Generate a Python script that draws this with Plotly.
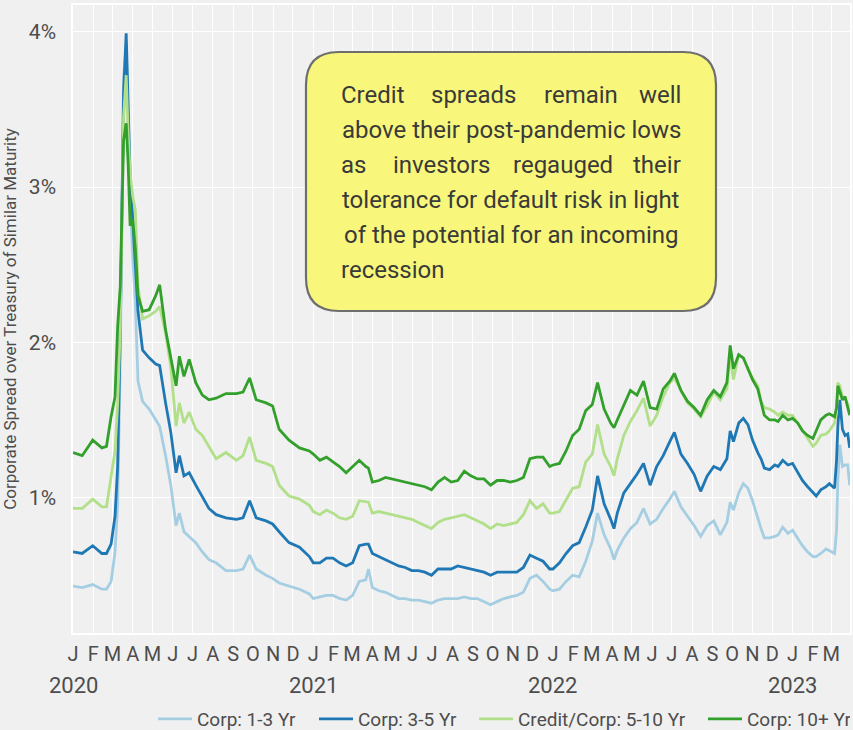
import pandas as pd
import plotly.graph_objects as go

# ---- data: corporate spread over Treasury of similar maturity (%) ----
dates = [
    "2020-01-01", "2020-01-15", "2020-01-31", "2020-02-14", "2020-02-21", "2020-02-28",
    "2020-03-05", "2020-03-09", "2020-03-13", "2020-03-18", "2020-03-22", "2020-03-25",
    "2020-03-28", "2020-04-01", "2020-04-05", "2020-04-09", "2020-04-16", "2020-04-26",
    "2020-05-06", "2020-05-12", "2020-05-21", "2020-05-29", "2020-06-06", "2020-06-11",
    "2020-06-18", "2020-06-26", "2020-07-06", "2020-07-16", "2020-07-26", "2020-08-06",
    "2020-08-21", "2020-09-06", "2020-09-16", "2020-09-26", "2020-10-06", "2020-10-21",
    "2020-10-31", "2020-11-10", "2020-11-25", "2020-12-11", "2020-12-26",
    "2021-01-01", "2021-01-11", "2021-01-21", "2021-01-31", "2021-02-10", "2021-02-20",
    "2021-03-02", "2021-03-12", "2021-03-22", "2021-03-26", "2021-04-01", "2021-04-11",
    "2021-04-21", "2021-05-01", "2021-05-11", "2021-05-21", "2021-05-31", "2021-06-10",
    "2021-06-20", "2021-06-30", "2021-07-10", "2021-07-20", "2021-07-30", "2021-08-09",
    "2021-08-19", "2021-08-29", "2021-09-08", "2021-09-18", "2021-09-28", "2021-10-08",
    "2021-10-18", "2021-10-28", "2021-11-07", "2021-11-17", "2021-11-27", "2021-12-07",
    "2021-12-17", "2021-12-27",
    "2022-01-01", "2022-01-11", "2022-01-21", "2022-01-31", "2022-02-10", "2022-02-20",
    "2022-03-02", "2022-03-10", "2022-03-20", "2022-03-30", "2022-04-04", "2022-04-09",
    "2022-04-19", "2022-04-29", "2022-05-09", "2022-05-19", "2022-05-29", "2022-06-08",
    "2022-06-18", "2022-06-28", "2022-07-05", "2022-07-15", "2022-07-25", "2022-08-04",
    "2022-08-14", "2022-08-24", "2022-09-03", "2022-09-13", "2022-09-23", "2022-09-28",
    "2022-10-03", "2022-10-11", "2022-10-18", "2022-10-25", "2022-11-01", "2022-11-09",
    "2022-11-14", "2022-11-19", "2022-11-27", "2022-12-05", "2022-12-10", "2022-12-17",
    "2022-12-25",
    "2023-01-01", "2023-01-09", "2023-01-16", "2023-01-24", "2023-02-01", "2023-02-06",
    "2023-02-13", "2023-02-21", "2023-02-26", "2023-03-06", "2023-03-09", "2023-03-11",
    "2023-03-14", "2023-03-18", "2023-03-22", "2023-03-26", "2023-03-29",
]

corp_1_3 = [
    0.43, 0.42, 0.44, 0.41, 0.41, 0.46,
    0.65, 0.95, 1.90, 3.70, 3.92, 3.40,
    2.90, 2.55, 2.25, 1.75, 1.62, 1.57,
    1.50, 1.46, 1.27, 1.08, 0.82, 0.90,
    0.78, 0.75, 0.71, 0.65, 0.60, 0.58,
    0.53, 0.53, 0.54, 0.63, 0.54, 0.50,
    0.48, 0.45, 0.43, 0.41, 0.38,
    0.35, 0.36, 0.37, 0.37, 0.35, 0.34,
    0.37, 0.46, 0.47, 0.54, 0.42, 0.40,
    0.39, 0.37, 0.35, 0.35, 0.34, 0.34,
    0.33, 0.32, 0.34, 0.35, 0.35, 0.35,
    0.36, 0.35, 0.35, 0.33, 0.31, 0.33,
    0.35, 0.36, 0.37, 0.39, 0.48, 0.50,
    0.46, 0.41,
    0.40, 0.41, 0.46, 0.50, 0.49, 0.59,
    0.72, 0.90, 0.76, 0.67, 0.60, 0.66,
    0.74, 0.80, 0.84, 0.93, 0.83, 0.86,
    0.93, 0.99, 1.04, 0.94, 0.88, 0.82,
    0.75, 0.82, 0.85, 0.76, 0.84, 0.97,
    0.92, 1.03, 1.09, 1.06, 0.98, 0.86,
    0.80, 0.74, 0.74, 0.75, 0.76, 0.81,
    0.77,
    0.79, 0.74, 0.69, 0.65, 0.62, 0.62,
    0.64, 0.67, 0.66, 0.64, 0.79, 1.11,
    1.34, 1.20, 1.21, 1.21, 1.08,
]

corp_3_5 = [
    0.65, 0.64, 0.69, 0.64, 0.64, 0.70,
    0.88, 1.20, 2.08, 3.60, 3.99, 3.50,
    3.07, 2.79, 2.45, 2.20, 1.95, 1.90,
    1.86, 1.85, 1.61, 1.42, 1.16, 1.27,
    1.14, 1.16, 1.08, 1.00, 0.93, 0.89,
    0.87, 0.86, 0.87, 0.98, 0.87, 0.85,
    0.83, 0.78, 0.71, 0.68, 0.62,
    0.58, 0.58, 0.61, 0.61, 0.58, 0.56,
    0.58, 0.69, 0.70, 0.70, 0.64, 0.62,
    0.60, 0.58, 0.56, 0.55, 0.53, 0.53,
    0.52, 0.50, 0.54, 0.54, 0.54, 0.56,
    0.55, 0.54, 0.53, 0.52, 0.50, 0.52,
    0.52, 0.52, 0.52, 0.55, 0.63, 0.61,
    0.59, 0.54,
    0.54, 0.58, 0.64, 0.69, 0.71, 0.81,
    0.92, 1.14, 0.96, 0.86, 0.80, 0.90,
    1.03, 1.09, 1.15, 1.22, 1.08, 1.20,
    1.27, 1.36, 1.42, 1.28, 1.22, 1.15,
    1.04, 1.14, 1.20, 1.18, 1.25, 1.43,
    1.36, 1.48, 1.51, 1.47, 1.37, 1.29,
    1.25, 1.19, 1.18, 1.21, 1.20, 1.24,
    1.21,
    1.22, 1.16, 1.11, 1.07, 1.03, 1.01,
    1.05, 1.07, 1.09, 1.06, 1.24, 1.46,
    1.63, 1.44, 1.40, 1.41, 1.32,
]

credit_5_10 = [
    0.93, 0.93, 0.99, 0.94, 0.94, 1.12,
    1.30, 1.60, 2.10, 3.45, 3.72, 3.35,
    3.09, 2.94, 2.85, 2.36, 2.15, 2.17,
    2.20, 2.23, 2.06, 1.84, 1.46, 1.61,
    1.48, 1.55, 1.44, 1.40, 1.33, 1.25,
    1.29, 1.24, 1.27, 1.39, 1.24, 1.22,
    1.20, 1.08, 1.01, 0.99, 0.95,
    0.91, 0.89, 0.92, 0.90, 0.87, 0.86,
    0.88, 0.98, 0.97, 0.97, 0.90, 0.91,
    0.90, 0.89, 0.88, 0.87, 0.86, 0.84,
    0.82, 0.80, 0.84, 0.86, 0.87, 0.88,
    0.89, 0.87, 0.85, 0.83, 0.80, 0.83,
    0.82, 0.83, 0.84, 0.89, 0.98, 0.93,
    0.96, 0.90,
    0.90, 0.91, 0.99, 1.06, 1.07, 1.23,
    1.28, 1.47, 1.28, 1.20, 1.14, 1.25,
    1.40, 1.49, 1.56, 1.64, 1.46, 1.53,
    1.65, 1.74, 1.77, 1.69, 1.61, 1.57,
    1.52, 1.59, 1.68, 1.63, 1.70, 1.91,
    1.76, 1.92, 1.90, 1.83, 1.77, 1.72,
    1.62, 1.58, 1.57, 1.55, 1.53, 1.55,
    1.53,
    1.53, 1.48, 1.43, 1.38, 1.33, 1.35,
    1.40, 1.41, 1.43, 1.48, 1.55, 1.74,
    1.72, 1.65, 1.64, 1.60, 1.54,
]

corp_10_plus = [
    1.29, 1.27, 1.37, 1.32, 1.33, 1.52,
    1.65, 2.10, 2.36, 3.30, 3.41, 3.15,
    2.75, 2.79, 2.60, 2.30, 2.20, 2.21,
    2.30, 2.37, 2.08, 1.91, 1.72, 1.91,
    1.78, 1.89, 1.74, 1.66, 1.63, 1.64,
    1.67, 1.67, 1.68, 1.77, 1.63, 1.61,
    1.59, 1.44, 1.37, 1.32, 1.30,
    1.28, 1.24, 1.26, 1.23, 1.20, 1.16,
    1.20, 1.24, 1.20, 1.19, 1.10, 1.11,
    1.13, 1.12, 1.11, 1.10, 1.09, 1.08,
    1.07, 1.05, 1.10, 1.13, 1.10, 1.11,
    1.17, 1.14, 1.12, 1.12, 1.08, 1.11,
    1.11, 1.10, 1.11, 1.13, 1.25, 1.26,
    1.26, 1.20,
    1.21, 1.22, 1.30, 1.40, 1.44, 1.56,
    1.60, 1.74, 1.57, 1.48, 1.45, 1.50,
    1.60, 1.69, 1.66, 1.75, 1.58, 1.57,
    1.70, 1.75, 1.80, 1.69, 1.62, 1.58,
    1.53, 1.63, 1.69, 1.65, 1.74, 1.98,
    1.83, 1.92, 1.90, 1.83, 1.76, 1.70,
    1.61, 1.53, 1.50, 1.50, 1.49, 1.53,
    1.50,
    1.51, 1.48, 1.43, 1.40, 1.38, 1.43,
    1.50, 1.53, 1.54, 1.52, 1.58, 1.72,
    1.68, 1.63, 1.65, 1.57, 1.53,
]

series_names = ["Corp: 1-3 Yr", "Corp: 3-5 Yr", "Credit/Corp: 5-10 Yr", "Corp: 10+ Yr"]
series_values = [corp_1_3, corp_3_5, credit_5_10, corp_10_plus]
series_colors = ["#A6CEE3", "#1F78B4", "#B2DF8A", "#33A02C"]
legend_entry_px = [112, 111, 180, 98]

y_tick_vals = [1, 2, 3, 4]
y_tick_text = ["1%", "2%", "3%", "4%"]
month_starts = pd.date_range("2020-01-01", "2023-03-01", freq="MS")
month_letters = [d.strftime("%B")[0] for d in month_starts]
year_labels = ["2020", "2021", "2022", "2023"]

note_lines = [
    ["Credit", "spreads", "remain", "well"],
    ["above their post-pandemic lows"],
    ["as", "investors", "regauged", "their"],
    ["tolerance for default risk in light"],
    ["of the potential for an incoming"],
    ["recession"],
]

# ---- layout geometry (pixels) ----
W, H = 853, 730
ML, MR, MT, MB = 73, 3, 5, 97
PW, PH = W - ML - MR, H - MT - MB
FONT = "Roboto, 'Liberation Sans', Arial, sans-serif"
BG = "#F0F0F0"
TXT = "#4D4D4D"


def px_x(px):
    return (px - ML) / PW


def px_y(py):
    return (H - MB - py) / PH


fig = go.Figure()
for name, vals, col, lw in zip(series_names, series_values, series_colors, legend_entry_px):
    fig.add_trace(go.Scatter(
        x=pd.to_datetime(dates), y=vals, name=name, mode="lines",
        line=dict(color=col, width=2.8), hoverinfo="skip", legendwidth=lw,
    ))

# rounded note box
bx0, bx1, by0, by1, r = 306, 716, 52, 311, 33
x0, x1, y0, y1 = px_x(bx0), px_x(bx1), px_y(by0), px_y(by1)
rx, ry = r / PW, r / PH
path = (
    f"M{x0 + rx},{y0} L{x1 - rx},{y0} Q{x1},{y0} {x1},{y0 - ry} "
    f"L{x1},{y1 + ry} Q{x1},{y1} {x1 - rx},{y1} "
    f"L{x0 + rx},{y1} Q{x0},{y1} {x0},{y1 + ry} "
    f"L{x0},{y0 - ry} Q{x0},{y0} {x0 + rx},{y0} Z"
)
fig.add_shape(type="path", path=path, xref="paper", yref="paper",
              fillcolor="#F8F77B", line=dict(color="#6E6E6E", width=2.2), layer="above")

# justified note text
text_left, text_right = 339, 683
line_y = [95, 130, 165, 200, 235, 270]
word_left = {0: [339, 429, 542], 2: [339, 391, 511]}
annotations = []
note_font = dict(family=FONT, size=24, color="#3A3A3A")
for i, words in enumerate(note_lines):
    yy = px_y(line_y[i])
    if len(words) > 1:
        for j, w in enumerate(words):
            if j == len(words) - 1:
                annotations.append(dict(x=px_x(text_right), xanchor="right", text=w))
            else:
                annotations.append(dict(x=px_x(word_left[i][j]), xanchor="left", text=w))
            annotations[-1].update(y=yy)
    elif i == len(note_lines) - 1:
        annotations.append(dict(x=px_x(text_left), xanchor="left", y=yy, text=words[0]))
    else:
        annotations.append(dict(x=px_x((text_left + text_right) / 2), xanchor="center",
                                y=yy, text=words[0]))
for a in annotations:
    a.update(xref="paper", yref="paper", yanchor="middle", showarrow=False, font=note_font)

# year labels under January ticks
for yl in year_labels:
    annotations.append(dict(
        x=pd.Timestamp(f"{yl}-01-01"), xref="x", y=0, yref="paper",
        yanchor="middle", yshift=-52, text=yl, showarrow=False,
        font=dict(family=FONT, size=22, color=TXT),
    ))

fig.update_layout(
    width=W, height=H,
    margin=dict(l=ML, r=MR, t=MT, b=MB, pad=0, autoexpand=False),
    paper_bgcolor=BG, plot_bgcolor=BG,
    font=dict(family=FONT, color=TXT),
    showlegend=True,
    legend=dict(
        orientation="h", x=1.0, xanchor="right", y=px_y(719), yanchor="middle",
        font=dict(family=FONT, size=19, color=TXT), bgcolor="rgba(0,0,0,0)",
        itemwidth=34, traceorder="normal",
    ),
    annotations=annotations,
    xaxis=dict(
        type="date", range=["2020-01-01", "2023-03-29 12:00"],
        tickmode="array", tickvals=list(month_starts), ticktext=month_letters,
        tickfont=dict(family=FONT, size=20, color=TXT), ticks="",
        ticklabelstandoff=2,
        showgrid=True, gridcolor="white", gridwidth=1,
        showline=True, linecolor="white", linewidth=1.5, mirror=True,
        zeroline=False, fixedrange=True,
    ),
    yaxis=dict(
        range=[0.128, 4.172], tickmode="array", tickvals=y_tick_vals, ticktext=y_tick_text,
        tickfont=dict(family=FONT, size=21, color=TXT), ticks="",
        ticklabelstandoff=11,
        showgrid=True, gridcolor="white", gridwidth=1,
        showline=True, linecolor="white", linewidth=1.5, mirror=True,
        zeroline=False, fixedrange=True,
        title=dict(text="Corporate Spread over Treasury of Similar Maturity",
                   font=dict(family=FONT, size=17, color=TXT), standoff=9),
    ),
)

fig.write_html("out.html")
